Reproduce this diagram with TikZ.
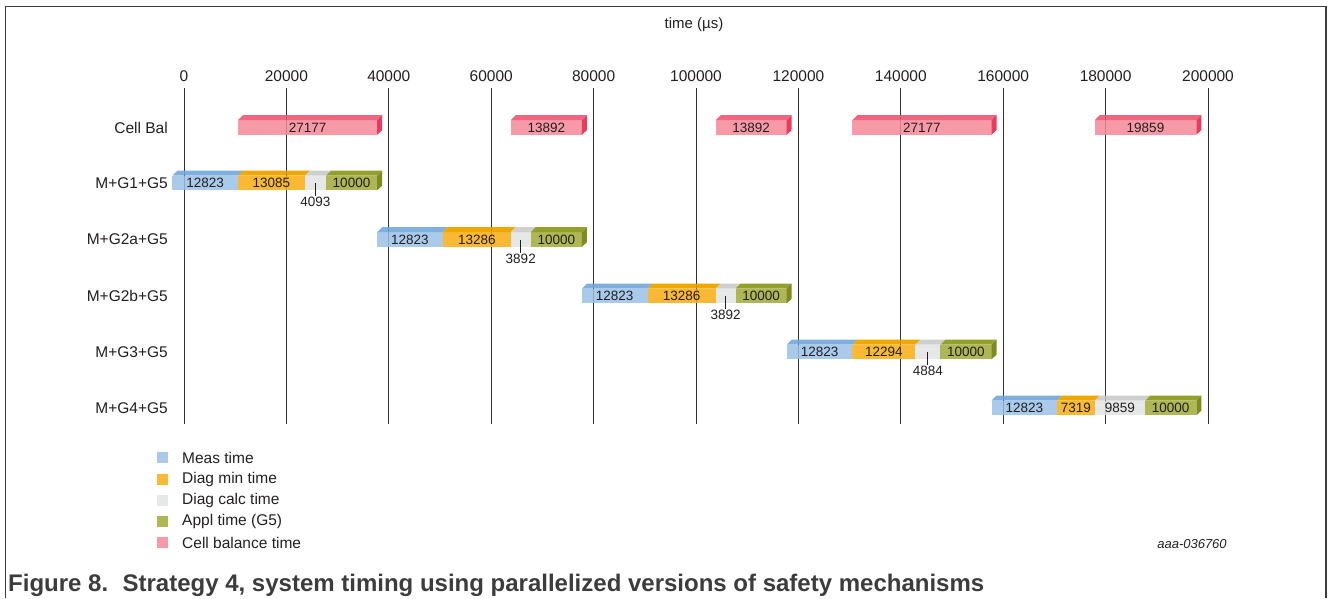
\documentclass[tikz,border=0pt]{standalone}
\usepackage{fontspec}
\setmainfont{Liberation Sans}
\definecolor{txt}{HTML}{231F20}
\definecolor{frm}{HTML}{3C3C3C}
\definecolor{grd}{HTML}{333333}
\definecolor{bluF}{HTML}{A9CAEB}
\definecolor{bluT}{HTML}{7FB0DF}
\definecolor{orgF}{HTML}{F9B934}
\definecolor{orgT}{HTML}{F0A800}
\definecolor{gryF}{HTML}{E6E7E7}
\definecolor{gryT}{HTML}{CFCFCF}
\definecolor{grnF}{HTML}{AEB656}
\definecolor{grnT}{HTML}{93A02A}
\definecolor{grnS}{HTML}{7F8B20}
\definecolor{pnkF}{HTML}{F79AA7}
\definecolor{pnkT}{HTML}{F0657F}
\definecolor{pnkS}{HTML}{E83C5E}
\tikzset{
  bigtxt/.style={text=txt, inner sep=1pt, font=\fontsize{15.5}{18}\selectfont},
  barlbl/.style={text=txt, inner sep=1pt, font=\fontsize{13.5}{16}\selectfont},
  gridln/.style={draw=grd, line width=1pt},
  leader/.style={draw=txt, line width=0.9pt},
  frame/.style={draw=frm, line width=1.3pt},
}
% #1 name, #2 start, #3 end (k-us from bar origin), #4 row y, #5 front, #6 top, #7 label
\newcommand{\tbseg}[7]{%
  \pgfmathsetmacro\xa{172.3+5.12*#2}%
  \pgfmathsetmacro\xb{172.3+5.12*#3}%
  \fill[#5] (\xa,#4-7.3) rectangle (\xb,#4+7.3);
  \fill[#6] (\xa,#4-7.3) -- (\xa+5,#4-12.3) -- (\xb+5,#4-12.3) -- (\xb,#4-7.3) -- cycle;
  \node[barlbl] (#1) at ({(\xa+\xb)/2},#4) {#7};
}
% #1 end, #2 row y, #3 side colour
\newcommand{\tbside}[3]{%
  \pgfmathsetmacro\xb{172.3+5.12*#1}%
  \fill[#3] (\xb,#2-7.3) -- (\xb+5,#2-12.3) -- (\xb+5,#2+2.7) -- (\xb,#2+7.3) -- cycle;
}
\begin{document}
\begin{tikzpicture}[x=1pt,y=-1pt]
\useasboundingbox (0,0) rectangle (1330,598);
% frame
\draw[frame] (5.5,598) -- (5.5,6.5) -- (1326,6.5) -- (1326,598);
% title
\node[bigtxt,font=\fontsize{15}{18}\selectfont] (title) at (694,25) {time (µs)};
% grid + tick labels
\foreach \k/\v in {0/0,1/20000,2/40000,3/60000,4/80000,5/100000,6/120000,7/140000,8/160000,9/180000,10/200000}{
  \draw[gridln] (184+102.4*\k,88) -- (184+102.4*\k,424);
  \node[bigtxt] (tick\k) at (184+102.4*\k,76) {\v};
}
% row labels
\node[bigtxt,anchor=east] (r0) at (169,127.5) {Cell Bal};
\node[bigtxt,anchor=east] (r1) at (169,183) {M+G1+G5};
\node[bigtxt,anchor=east] (r2) at (169,239.5) {M+G2a+G5};
\node[bigtxt,anchor=east] (r3) at (169,296) {M+G2b+G5};
\node[bigtxt,anchor=east] (r4) at (169,352) {M+G3+G5};
\node[bigtxt,anchor=east] (r5) at (169,408) {M+G4+G5};
% cell balancing bars
\tbseg{cb1}{12.824}{40.001}{127.5}{pnkF}{pnkT}{27177}\tbside{40.001}{127.5}{pnkS}
\tbseg{cb2}{66.110}{80.002}{127.5}{pnkF}{pnkT}{13892}\tbside{80.002}{127.5}{pnkS}
\tbseg{cb3}{106.111}{120.003}{127.5}{pnkF}{pnkT}{13892}\tbside{120.003}{127.5}{pnkS}
\tbseg{cb4}{132.827}{160.004}{127.5}{pnkF}{pnkT}{27177}\tbside{160.004}{127.5}{pnkS}
\tbseg{cb5}{180.146}{200.005}{127.5}{pnkF}{pnkT}{19859}\tbside{200.005}{127.5}{pnkS}
% row 1
\tbseg{m1}{0}{12.823}{183}{bluF}{bluT}{12823}
\tbseg{d1}{12.823}{25.908}{183}{orgF}{orgT}{13085}
\tbseg{c1}{25.908}{30.001}{183}{gryF}{gryT}{}
\tbseg{a1}{30.001}{40.001}{183}{grnF}{grnT}{10000}\tbside{40.001}{183}{grnS}
% row 2
\tbseg{m2}{40.001}{52.824}{239.5}{bluF}{bluT}{12823}
\tbseg{d2}{52.824}{66.110}{239.5}{orgF}{orgT}{13286}
\tbseg{c2}{66.110}{70.002}{239.5}{gryF}{gryT}{}
\tbseg{a2}{70.002}{80.002}{239.5}{grnF}{grnT}{10000}\tbside{80.002}{239.5}{grnS}
% row 3
\tbseg{m3}{80.002}{92.825}{296}{bluF}{bluT}{12823}
\tbseg{d3}{92.825}{106.111}{296}{orgF}{orgT}{13286}
\tbseg{c3}{106.111}{110.003}{296}{gryF}{gryT}{}
\tbseg{a3}{110.003}{120.003}{296}{grnF}{grnT}{10000}\tbside{120.003}{296}{grnS}
% row 4
\tbseg{m4}{120.003}{132.826}{352}{bluF}{bluT}{12823}
\tbseg{d4}{132.826}{145.120}{352}{orgF}{orgT}{12294}
\tbseg{c4}{145.120}{150.004}{352}{gryF}{gryT}{}
\tbseg{a4}{150.004}{160.004}{352}{grnF}{grnT}{10000}\tbside{160.004}{352}{grnS}
% row 5
\tbseg{m5}{160.004}{172.827}{408}{bluF}{bluT}{12823}
\tbseg{d5}{172.827}{180.146}{408}{orgF}{orgT}{7319}
\tbseg{c5}{180.146}{190.005}{408}{gryF}{gryT}{9859}
\tbseg{a5}{190.005}{200.005}{408}{grnF}{grnT}{10000}\tbside{200.005}{408}{grnS}
% faint grid over bars
\foreach \k in {0,...,10}{
  \draw[draw=grd, line width=1pt, opacity=0.22] (184+102.4*\k,88) -- (184+102.4*\k,424);
}
% leaders for diag calc time
\node[barlbl] (l1) at (c1 |- 0,202) {4093};
\node[barlbl] (l2) at (c2 |- 0,258.5) {3892};
\node[barlbl] (l3) at (c3 |- 0,315) {3892};
\node[barlbl] (l4) at (c4 |- 0,371) {4884};
\draw[leader] (c1.center) -- (l1.north);
\draw[leader] (c2.center) -- (l2.north);
\draw[leader] (c3.center) -- (l3.north);
\draw[leader] (c4.center) -- (l4.north);
% legend
\fill[bluF] (157,452) rectangle (168,463);
\fill[orgF] (157,474) rectangle (168,485);
\fill[gryF] (157,495) rectangle (168,506);
\fill[grnF] (157,516) rectangle (168,527);
\fill[pnkF] (157,537) rectangle (168,548);
\node[bigtxt,anchor=west] (lg1) at (181,457.5) {Meas time};
\node[bigtxt,anchor=west] (lg2) at (181,479.5) {Diag min time};
\node[bigtxt,anchor=west] (lg3) at (181,500.5) {Diag calc time};
\node[bigtxt,anchor=west] (lg4) at (181,521.5) {Appl time (G5)};
\node[bigtxt,anchor=west] (lg5) at (181,542.5) {Cell balance time};
% id
\node[barlbl,font=\fontsize{13}{15}\itshape] (id) at (1192,544) {aaa-036760};
% caption
\node[anchor=base west, inner sep=0pt, text=frm, font=\fontsize{24}{28}\bfseries] (cap) at (8,591)
  {Figure 8.\hspace{0.6em}Strategy 4, system timing using parallelized versions of safety mechanisms};
\end{tikzpicture}
\end{document}
